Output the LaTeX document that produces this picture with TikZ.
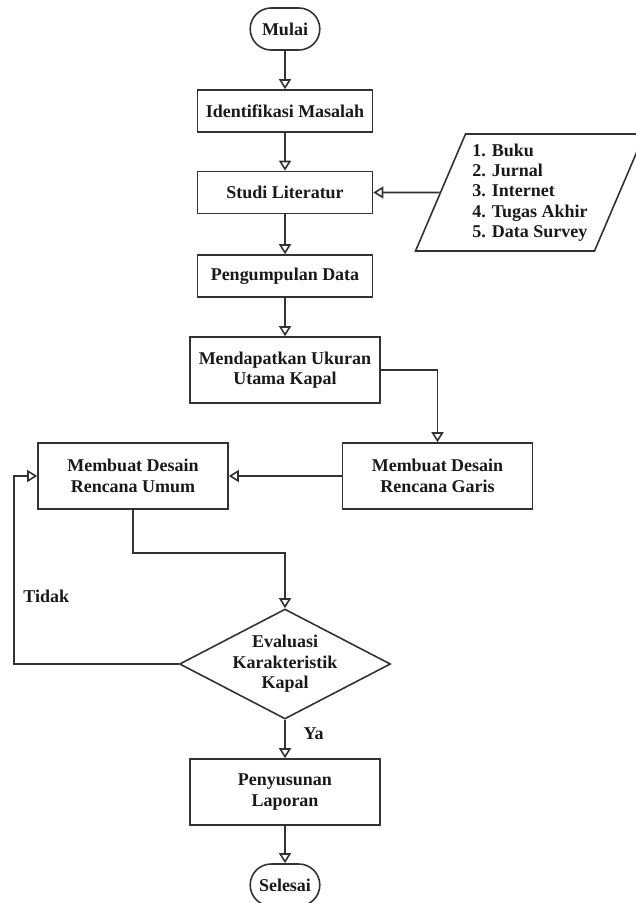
\documentclass[tikz,border=0pt]{standalone}
\usepackage{fontspec}
\setmainfont{Liberation Serif}
\usepackage{tikz}
\usetikzlibrary{shapes,arrows.meta,calc}
\tikzstyle{tsBoldText} = [ 
    text=black!90, 
    font=\bfseries\fontsize{12.8}{14.5}\selectfont
]
\tikzstyle{tsRectangle} = [ 
    rectangle,
    tsBoldText,
    align=center,
    draw=black!80,
    line width=0.4mm,
    minimum width=4.375cm,
    minimum height=1.05cm]
\tikzstyle{tsTallRectangle} = [ 
    tsRectangle,
    minimum width=4.75cm,
    minimum height=1.65cm]
\tikzstyle{tsTerminal} = [ 
    rounded rectangle,
    tsBoldText,
    draw=black!80,
    line width=0.4mm,
    minimum width=1.975cm,
    minimum height=1.05cm]
\tikzstyle{tsDecision} = [ 
    diamond,
    aspect=1.92,
    tsBoldText,
    align=center,
    draw=black!80,
    line width=0.4mm,
    inner sep=-0.1cm,
    minimum width=5.275cm,
    minimum height=2.75cm]
\tikzstyle{tsInput} = [ 
    trapezium,
    trapezium left angle=65,
    trapezium right angle=115,
    trapezium stretches body,
    tsBoldText,
    align=left,
    draw=black!80,
    line width=0.4mm,
    minimum width=5.725cm,
    minimum height=2.925cm]
\tikzstyle{tsFlow} = [ 
    draw=black!80,
    line width=0.4mm,
    -{Triangle[open, width=0.3cm, length=0.25cm]}]

\begin{document}
\begin{tikzpicture}

        \useasboundingbox (0,0) rectangle (15.875,-22.575);

        % Main column
        \node[tsTerminal] (mulai) at (7.125,-0.725) {Mulai};
        \node[tsRectangle] (identifikasi) at (7.125,-2.775) {Identifikasi Masalah};
        \node[tsRectangle] (studi) at (7.125,-4.8125) {Studi Literatur};
        \node[tsRectangle] (pengumpulan) at (7.125,-6.9) {Pengumpulan Data};
        \node[tsTallRectangle] (mendapatkan) at (7.125,-9.25) {Mendapatkan Ukuran\\Utama Kapal};

        % Literature sources
        \node[tsInput] (sumber) at (13.25,-4.8125) {1. Buku\\2. Jurnal\\3. Internet\\4. Tugas Akhir\\5. Data Survey};

        % Design boxes
        \node[tsTallRectangle] (umum) at (3.325,-11.9) {Membuat Desain\\Rencana Umum};
        \node[tsTallRectangle] (garis) at (10.9375,-11.9) {Membuat Desain\\Rencana Garis};

        % Evaluation and end
        \node[tsDecision] (evaluasi) at (7.125,-16.6) {Evaluasi\\Karakteristik\\Kapal};
        \node[tsTallRectangle] (penyusunan) at (7.125,-19.8) {Penyusunan\\Laporan};
        \node[tsTerminal] (selesai) at (7.125,-22.125) {Selesai};

        % Connecting arrows
        \draw[tsFlow] (mulai) -- (identifikasi);
        \draw[tsFlow] (identifikasi) -- (studi);
        \draw[tsFlow] (sumber.west) -- (studi.east);
        \draw[tsFlow] (studi) -- (pengumpulan);
        \draw[tsFlow] (pengumpulan) -- (mendapatkan);
        \draw[tsFlow] (mendapatkan.east) -| (garis.north);
        \draw[tsFlow] (garis.west) -- (umum.east);
        \draw[tsFlow] (umum.south) -- ++(0,-1.075) -| (evaluasi.north);

        % Loop back when not accepted
        \coordinate (loop) at (0.35,-16.6);
        \draw[tsFlow] (evaluasi.west) -- (loop) |- (umum.west)
        node[pos=0.18, right=0.1cm, tsBoldText] {Tidak};

        \draw[tsFlow] (evaluasi.south) -- (penyusunan.north)
        node[pos=0.35, right=0.33cm, tsBoldText] {Ya};
        \draw[tsFlow] (penyusunan) -- (selesai);

    \end{tikzpicture}
\end{document}
